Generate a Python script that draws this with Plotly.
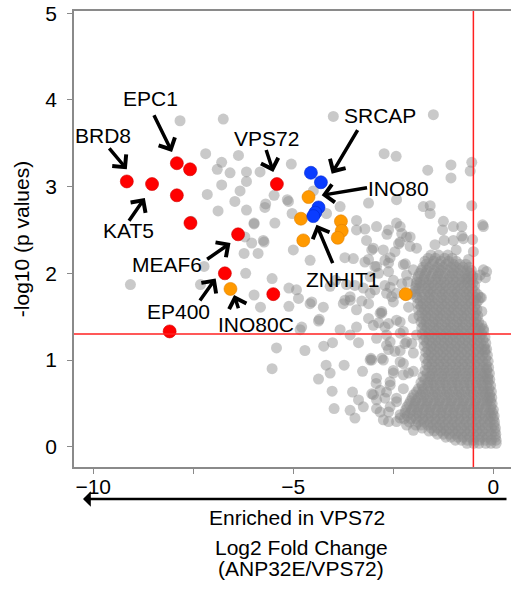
import plotly.graph_objects as go

# ---------------- data ----------------
# highlighted complexes (log2 FC, -log10 p)
red_x = [-9.16, -8.53, -7.91, -7.58, -7.91, -7.57, -5.41, -6.38, -6.71, -5.50, -8.09]
red_y = [3.06, 3.03, 3.27, 3.20, 2.90, 2.58, 3.03, 2.45, 2.00, 1.76, 1.33]

blue_x = [-4.56, -4.31, -4.37, -4.45, -4.50]
blue_y = [3.16, 3.05, 2.76, 2.70, 2.66]

orange_x = [-4.62, -4.81, -3.81, -3.79, -3.89, -4.75, -2.19, -6.57]
orange_y = [2.88, 2.63, 2.60, 2.49, 2.41, 2.38, 1.76, 1.82]

# background proteins, sparse upper part
grey_upper = [
    (-7.83, 3.76), (-6.75, 3.78), (-7.19, 3.38), (-6.79, 3.28), (-6.37, 3.36),
    (-6.90, 3.20), (-6.58, 3.16), (-6.17, 3.17), (-5.83, 3.17), (-6.79, 3.02),
    (-6.17, 3.06), (-7.15, 2.91), (-6.33, 2.95), (-6.46, 2.83), (-6.17, 2.73),
    (-6.88, 2.72), (-5.98, 2.58), (-6.21, 2.42), (-5.05, 3.26), (-5.48, 2.90),
    (-5.15, 2.85), (-5.12, 2.83), (-5.69, 2.80), (-4.00, 3.81), (-1.50, 3.83),
    (-2.73, 3.38), (-2.43, 3.35), (-1.64, 3.19), (-1.06, 3.25), (-1.06, 3.10),
    (-0.54, 3.28), (-0.58, 3.18), (-3.12, 2.81), (-2.42, 2.85), (-3.83, 2.77),
    (-1.58, 2.78), (-0.54, 2.78), (-5.71, 2.76), (-1.75, 2.77), (-1.58, 2.69),
    (-4.17, 2.69), (-5.03, 2.69), (-5.46, 2.58), (-4.50, 2.95), (-4.40, 2.75),
    (-6.04, 2.35), (-5.75, 2.38), (-7.55, 2.60),
]

# background proteins, middle band
grey_middle = [
    (-3.42, 2.61), (-3.21, 2.51), (-3.42, 2.50), (-2.92, 2.54), (-2.62, 2.50),
    (-2.42, 2.58), (-2.29, 2.46), (-2.08, 2.42), (-1.25, 2.60), (-1.00, 2.54),
    (-0.79, 2.54), (-0.25, 2.54), (-1.27, 2.50), (-1.23, 2.38), (-1.00, 2.38),
    (-0.52, 2.39), (-0.79, 2.43), (-0.27, 2.56), (-3.17, 2.38), (-2.33, 2.54),
    (-2.66, 2.45), (-2.17, 2.42), (-2.37, 2.34), (-1.92, 2.29), (-2.08, 2.31),
    (-3.04, 2.27), (-2.75, 2.27), (-2.58, 2.18), (-3.50, 2.17), (-3.71, 2.18),
    (-3.12, 2.16), (-4.58, 2.15), (-5.00, 2.27), (-4.92, 1.81), (-4.58, 1.65),
    (-4.25, 1.61), (-4.83, 1.35), (-3.75, 1.65), (-3.58, 1.73), (-3.42, 1.58),
    (-3.29, 1.68), (-3.08, 1.77), (-2.83, 1.54), (-2.87, 1.43), (-3.08, 1.96),
    (-2.92, 2.08), (-2.62, 2.02), (-2.50, 1.92), (-2.42, 1.77), (-2.54, 1.73),
    (-2.71, 1.86), (-3.71, 1.69), (-3.46, 1.86), (-0.17, 2.02), (-0.25, 2.04),
    (-2.20, 2.11), (-2.17, 1.98), (-2.00, 2.04), (-5.98, 2.57), (-5.73, 2.36),
    (-6.23, 2.23), (-5.88, 2.23), (-6.19, 2.00), (-5.53, 1.94), (-5.98, 1.75),
    (-5.82, 1.61), (-5.11, 1.83), (-5.11, 1.62), (-9.07, 1.87), (-7.32, 1.87),
    (-7.23, 2.08), (-4.87, 1.71), (-4.54, 1.67), (-4.37, 1.45), (-4.35, 1.47),
    (-4.79, 1.38), (-3.94, 1.92), (-4.08, 1.85), (-3.67, 1.87), (-3.58, 1.69),
    (-3.25, 1.83), (-3.12, 1.65), (-2.79, 1.56), (-3.12, 1.48), (-3.42, 1.38),
    (-3.83, 1.35), (-2.71, 1.38), (-2.42, 1.46), (-3.21, 2.13), (-2.87, 2.00),
    (-2.62, 2.12), (-2.29, 1.88), (-2.58, 1.84), (-3.00, 2.29), (-2.71, 2.15),
    (-2.96, 2.08), (-2.46, 2.25), (-2.33, 2.36), (-2.25, 2.10), (-2.67, 1.77),
    (-2.96, 1.81), (-2.50, 1.67), (-2.79, 1.54), (-3.00, 1.40), (-2.62, 1.42),
    (-2.33, 1.44), (-2.12, 1.61), (-2.00, 1.48), (-2.25, 1.33), (-0.75, 2.40),
    (-0.67, 1.94), (-0.50, 2.25), (-0.33, 1.98), (-0.41, 1.94), (-0.29, 1.56),
    (-0.29, 1.40), (-0.25, 1.36), (-0.30, 1.72), (-0.20, 1.95),
    (-1.46, 2.33), (-0.93, 2.27), (-0.62, 2.16), (-2.06, 1.76), (-2.14, 1.90),
]

# background proteins, lower scattered part
grey_lower = [
    (-5.42, 1.14), (-5.53, 0.90), (-4.71, 1.11), (-4.24, 1.16), (-4.02, 1.20),
    (-3.58, 1.29), (-3.37, 1.20), (-4.18, 0.94), (-4.08, 0.85), (-3.73, 0.94),
    (-4.37, 0.78), (-4.03, 0.64), (-3.98, 0.44), (-3.52, 0.63), (-3.37, 0.54),
    (-3.58, 0.42), (-3.46, 0.33), (-3.27, 0.87), (-3.08, 1.00), (-3.06, 1.02),
    (-3.25, 0.46), (-2.93, 0.73), (-2.83, 0.65), (-3.04, 0.61), (-2.92, 0.54),
    (-2.83, 0.40), (-2.62, 0.29), (-2.79, 1.02), (-2.62, 1.12), (-2.58, 1.21),
    (-2.67, 1.29), (-2.50, 0.88), (-2.58, 0.75), (-2.67, 0.63), (-2.42, 0.56),
    (-2.21, 1.19), (-2.25, 0.96), (-2.12, 0.85), (-1.92, 1.29), (-2.33, 1.31),
    (-2.04, 1.19), (-2.33, 1.11), (-2.58, 0.46), (-2.33, 0.33), (-2.00, 0.19),
    (-2.92, 1.25), (-2.67, 1.17), (-2.46, 1.10), (-2.17, 1.21), (-2.00, 1.08),
    (-3.04, 1.00), (-2.75, 1.00), (-2.33, 0.98), (-2.25, 0.83), (-2.50, 0.85),
    (-2.00, 0.87), (-2.92, 0.79), (-2.58, 0.71), (-2.25, 0.67), (-3.00, 0.60),
    (-2.71, 0.56), (-2.42, 0.52), (-2.92, 0.44), (-2.62, 0.40), (-2.33, 0.37),
    (-2.75, 0.31), (-2.42, 0.29), (-2.17, 0.25), (-0.21, 1.12), (-0.17, 0.90),
    (-0.14, 0.78),
]

# dense core of the background cloud: rows of (-log10 p, [log2 FC ...])
grey_core_rows = [
    (2.21, [-1.56, -1.37, -1.14]),
    (2.14, [-1.71, -1.49, -1.31, -1.12, -0.93]),
    (2.07, [-1.76, -1.60, -1.41, -1.26, -1.07, -0.93, -0.76, -0.61]),
    (2.00, [-1.84, -1.69, -1.51, -1.37, -1.21, -1.03, -0.89, -0.71, -0.57]),
    (1.93, [-1.91, -1.74, -1.61, -1.44, -1.31, -1.14, -1.01, -0.84, -0.69, -0.55]),
    (1.86, [-1.93, -1.79, -1.62, -1.49, -1.32, -1.19, -1.02, -0.87, -0.74, -0.58, -0.47]),
    (1.79, [-1.96, -1.81, -1.64, -1.51, -1.34, -1.21, -1.04, -0.91, -0.74, -0.61, -0.46]),
    (1.72, [-1.91, -1.78, -1.61, -1.48, -1.31, -1.18, -1.01, -0.88, -0.71, -0.58, -0.44, -0.33]),
    (1.65, [-1.89, -1.76, -1.59, -1.46, -1.29, -1.16, -0.99, -0.86, -0.69, -0.56, -0.43]),
    (1.58, [-1.87, -1.72, -1.59, -1.42, -1.29, -1.12, -0.99, -0.82, -0.69, -0.52, -0.41]),
    (1.51, [-1.86, -1.69, -1.56, -1.39, -1.26, -1.09, -0.96, -0.79, -0.66, -0.49, -0.39]),
    (1.44, [-1.81, -1.68, -1.51, -1.38, -1.21, -1.08, -0.91, -0.78, -0.61, -0.48, -0.37]),
    (1.37, [-1.79, -1.66, -1.49, -1.36, -1.19, -1.06, -0.89, -0.76, -0.59, -0.46, -0.34]),
    (1.30, [-1.78, -1.61, -1.48, -1.31, -1.18, -1.01, -0.88, -0.71, -0.58, -0.41, -0.29]),
    (1.23, [-1.74, -1.61, -1.44, -1.31, -1.14, -1.01, -0.84, -0.71, -0.54, -0.41, -0.26]),
    (1.16, [-1.73, -1.56, -1.43, -1.26, -1.13, -0.96, -0.83, -0.66, -0.53, -0.36, -0.23]),
    (1.09, [-1.69, -1.56, -1.39, -1.26, -1.09, -0.96, -0.79, -0.66, -0.49, -0.36, -0.21]),
    (1.02, [-1.71, -1.54, -1.41, -1.24, -1.11, -0.94, -0.81, -0.64, -0.51, -0.34, -0.19]),
    (0.95, [-1.67, -1.54, -1.37, -1.24, -1.07, -0.94, -0.77, -0.64, -0.47, -0.34, -0.18]),
    (0.88, [-1.71, -1.54, -1.41, -1.24, -1.11, -0.94, -0.81, -0.64, -0.51, -0.34, -0.16]),
    (0.81, [-1.76, -1.59, -1.46, -1.29, -1.16, -0.99, -0.86, -0.69, -0.56, -0.39, -0.26, -0.14]),
    (0.74, [-1.81, -1.64, -1.51, -1.34, -1.21, -1.04, -0.91, -0.74, -0.61, -0.44, -0.31, -0.13]),
    (0.67, [-1.87, -1.74, -1.57, -1.44, -1.27, -1.14, -0.97, -0.84, -0.67, -0.54, -0.37, -0.24, -0.11]),
    (0.60, [-1.99, -1.82, -1.69, -1.52, -1.39, -1.22, -1.09, -0.92, -0.79, -0.62, -0.49, -0.32, -0.19, -0.09]),
    (0.53, [-2.07, -1.94, -1.77, -1.64, -1.47, -1.34, -1.17, -1.04, -0.87, -0.74, -0.57, -0.44, -0.27, -0.14, -0.07]),
    (0.46, [-2.16, -1.99, -1.86, -1.69, -1.56, -1.39, -1.26, -1.09, -0.96, -0.79, -0.66, -0.49, -0.36, -0.19, -0.06]),
    (0.39, [-2.21, -2.08, -1.91, -1.78, -1.61, -1.48, -1.31, -1.18, -1.01, -0.88, -0.71, -0.58, -0.41, -0.28, -0.11, -0.02]),
    (0.32, [-2.23, -2.06, -1.93, -1.76, -1.63, -1.46, -1.33, -1.16, -1.03, -0.86, -0.73, -0.56, -0.43, -0.26, -0.13, 0.00]),
    (0.25, [-1.94, -1.81, -1.64, -1.51, -1.34, -1.21, -1.04, -0.91, -0.74, -0.61, -0.44, -0.31, -0.14, 0.02]),
    (0.18, [-1.61, -1.48, -1.31, -1.18, -1.01, -0.88, -0.71, -0.58, -0.41, -0.28, -0.11, 0.04]),
    (0.11, [-1.19, -1.06, -0.89, -0.76, -0.59, -0.46, -0.29, -0.16, 0.05]),
    (0.04, [-0.66, -0.49, -0.36, -0.19, -0.06, 0.07]),
]

# more core proteins lying between the rows above
grey_core_rows_between = [
    (2.175, [-1.63, -1.45, -1.22, -1.03]),
    (2.105, [-1.68, -1.52, -1.34, -1.18, -1.00, -0.84, -0.69]),
    (2.035, [-1.80, -1.66, -1.48, -1.32, -1.15, -0.99, -0.82, -0.66, -0.55]),
    (1.965, [-1.88, -1.72, -1.56, -1.40, -1.26, -1.09, -0.94, -0.79, -0.63, -0.52]),
    (1.895, [-1.92, -1.83, -1.68, -1.53, -1.38, -1.23, -1.08, -0.93, -0.79, -0.64, -0.51]),
    (1.825, [-1.95, -1.86, -1.70, -1.56, -1.41, -1.26, -1.11, -0.96, -0.81, -0.66, -0.53]),
    (1.755, [-1.93, -1.72, -1.58, -1.43, -1.27, -1.12, -0.97, -0.83, -0.67, -0.52, -0.39]),
    (1.685, [-1.83, -1.69, -1.54, -1.38, -1.23, -1.08, -0.93, -0.78, -0.63, -0.49, -0.38]),
    (1.615, [-1.81, -1.66, -1.51, -1.36, -1.21, -1.06, -0.91, -0.76, -0.61, -0.47]),
    (1.545, [-1.79, -1.64, -1.49, -1.34, -1.19, -1.04, -0.89, -0.74, -0.59, -0.45]),
    (1.475, [-1.77, -1.62, -1.47, -1.32, -1.17, -1.02, -0.87, -0.72, -0.57, -0.43]),
    (1.405, [-1.74, -1.59, -1.44, -1.29, -1.14, -0.99, -0.84, -0.69, -0.54, -0.40]),
    (1.335, [-1.71, -1.56, -1.41, -1.26, -1.11, -0.96, -0.81, -0.66, -0.51, -0.36, -0.24]),
    (1.265, [-1.69, -1.54, -1.39, -1.24, -1.09, -0.94, -0.79, -0.64, -0.49, -0.34, -0.21]),
    (1.195, [-1.67, -1.52, -1.37, -1.22, -1.07, -0.92, -0.77, -0.62, -0.47, -0.32, -0.19]),
    (1.125, [-1.64, -1.49, -1.34, -1.19, -1.04, -0.89, -0.74, -0.59, -0.44, -0.29, -0.17]),
    (1.055, [-1.62, -1.47, -1.32, -1.17, -1.02, -0.87, -0.72, -0.57, -0.42, -0.27, -0.15]),
    (0.985, [-1.63, -1.48, -1.33, -1.18, -1.03, -0.88, -0.73, -0.58, -0.43, -0.27, -0.13]),
    (0.915, [-1.61, -1.46, -1.31, -1.16, -1.01, -0.86, -0.71, -0.56, -0.41, -0.25, -0.12]),
    (0.845, [-1.66, -1.51, -1.36, -1.21, -1.06, -0.91, -0.76, -0.61, -0.46, -0.31, -0.20, -0.10]),
    (0.775, [-1.71, -1.56, -1.41, -1.26, -1.11, -0.96, -0.81, -0.66, -0.51, -0.36, -0.21, -0.09]),
    (0.705, [-1.78, -1.63, -1.48, -1.33, -1.18, -1.03, -0.88, -0.73, -0.58, -0.43, -0.28, -0.17, -0.07]),
    (0.635, [-1.92, -1.77, -1.62, -1.47, -1.32, -1.17, -1.02, -0.87, -0.72, -0.57, -0.42, -0.27, -0.14, -0.05]),
    (0.565, [-2.03, -1.88, -1.73, -1.58, -1.43, -1.28, -1.13, -0.98, -0.83, -0.68, -0.53, -0.38, -0.23, -0.10, -0.04]),
    (0.495, [-2.11, -1.96, -1.81, -1.66, -1.51, -1.36, -1.21, -1.06, -0.91, -0.76, -0.61, -0.46, -0.31, -0.17, -0.03]),
    (0.425, [-2.19, -2.04, -1.89, -1.74, -1.59, -1.44, -1.29, -1.14, -0.99, -0.84, -0.69, -0.54, -0.39, -0.24, -0.08, 0.00]),
    (0.355, [-2.15, -2.00, -1.85, -1.70, -1.55, -1.40, -1.25, -1.10, -0.95, -0.80, -0.65, -0.50, -0.35, -0.20, -0.06, 0.02]),
    (0.285, [-2.10, -1.88, -1.73, -1.58, -1.43, -1.28, -1.13, -0.98, -0.83, -0.68, -0.53, -0.38, -0.23, -0.08, 0.03]),
    (0.215, [-1.78, -1.55, -1.40, -1.25, -1.10, -0.95, -0.80, -0.65, -0.50, -0.35, -0.20, -0.05, 0.05]),
    (0.145, [-1.40, -1.25, -1.10, -0.95, -0.80, -0.65, -0.50, -0.35, -0.20, -0.05, 0.06]),
    (0.075, [-0.95, -0.80, -0.65, -0.50, -0.35, -0.20, -0.05, 0.07]),
]

# gene labels: (text, label x, label y, arrow tail x, tail y, arrow head x, head y)
gene_labels = [
    ("EPC1", -8.58, 4.02, -8.50, 3.84, -8.03, 3.40),
    ("BRD8", -9.76, 3.59, -9.63, 3.46, -9.16, 3.20),
    ("KAT5", -9.13, 2.49, -9.13, 2.59, -8.71, 2.87),
    ("VPS72", -5.68, 3.55, -5.69, 3.44, -5.50, 3.17),
    ("SRCAP", -2.83, 3.82, -3.37, 3.67, -4.04, 3.15),
    ("INO80", -2.36, 2.98, -3.12, 2.99, -4.29, 2.90),
    ("ZNHIT1", -3.76, 1.93, -4.00, 2.10, -4.42, 2.56),
    ("MEAF6", -8.15, 2.10, -7.19, 2.15, -6.57, 2.35),
    ("EP400", -7.86, 1.56, -7.36, 1.67, -6.94, 1.94),
    ("INO80C", -5.93, 1.41, -6.36, 1.58, -6.48, 1.75),
]

x_tick_vals = [-10, -7.5, -5, -2.5, 0]
x_tick_text = ["\u221210", "", "\u22125", "", "0"]
y_tick_vals = [0, 1, 2, 3, 4, 5]
fc_cutoff = -0.5
p_cutoff = 1.3

# ---------------- assemble ----------------
grey_x, grey_y = [], []
for pts in (grey_upper, grey_middle, grey_lower):
    for gx, gy in pts:
        grey_x.append(gx)
        grey_y.append(gy)
for rows in (grey_core_rows, grey_core_rows_between):
    for ry, xs in rows:
        for gx in xs:
            grey_x.append(gx)
            grey_y.append(ry)

FONT = "Liberation Sans, Arial, sans-serif"

fig = go.Figure()
fig.add_trace(go.Scatter(
    x=grey_x, y=grey_y, mode="markers",
    marker=dict(size=11, color="rgb(140,140,140)", opacity=0.47, line=dict(width=0)),
    hoverinfo="skip"))
fig.add_trace(go.Scatter(
    x=red_x, y=red_y, mode="markers",
    marker=dict(size=13, color="#ff0000", line=dict(width=0.6, color="#d00000"))))
fig.add_trace(go.Scatter(
    x=orange_x, y=orange_y, mode="markers",
    marker=dict(size=13, color="#ff9900", line=dict(width=0.6, color="#e08000"))))
fig.add_trace(go.Scatter(
    x=blue_x, y=blue_y, mode="markers",
    marker=dict(size=13, color="#0a3cff", line=dict(width=0.6, color="#0028d0"))))

annotations = []
for name, lx, ly, tx, ty, hx, hy in gene_labels:
    annotations.append(dict(
        x=hx, y=hy, ax=tx, ay=ty, xref="x", yref="y", axref="x", ayref="y",
        text="", showarrow=True, arrowhead=4, arrowsize=1.0, arrowwidth=3.5,
        arrowcolor="black", standoff=0, startstandoff=0))
    annotations.append(dict(
        x=lx, y=ly, xref="x", yref="y", text=name, showarrow=False,
        font=dict(family=FONT, size=21, color="black")))

# bottom direction arrow and axis titles (below plot)
plot_left, plot_w, plot_top, plot_h = 74, 437, 11, 456
def px_to_paper(px, py):
    return (px - plot_left) / plot_w, (plot_top + plot_h - py) / plot_h

hx, hy = px_to_paper(83, 499)
annotations.append(dict(
    x=hx, y=hy, xref="paper", yref="paper", ax=425, ay=0,
    text="", showarrow=True, arrowhead=1, arrowsize=1.0, arrowwidth=2.6,
    arrowcolor="black", standoff=0, startstandoff=0))
for txt, cx, cy in [("Enriched in VPS72", 297, 517),
                    ("Log2 Fold Change", 301, 547),
                    ("(ANP32E/VPS72)", 301, 568)]:
    px_, py_ = px_to_paper(cx, cy)
    annotations.append(dict(
        x=px_, y=py_, xref="paper", yref="paper", text=txt, showarrow=False,
        xanchor="center", yanchor="middle",
        font=dict(family=FONT, size=21, color="black")))

fig.update_layout(
    width=511, height=589,
    margin=dict(l=74, r=0, t=11, b=122),
    paper_bgcolor="white", plot_bgcolor="white",
    showlegend=False,
    font=dict(family=FONT, size=21, color="black"),
    xaxis=dict(range=[-10.48, 0.44], showgrid=False, zeroline=False,
               showline=True, linecolor="#8a8a8a", linewidth=1.5, mirror=True,
               ticks="outside", ticklen=5, tickcolor="#8a8a8a", tickwidth=1.2,
               tickvals=x_tick_vals, ticktext=x_tick_text, ticklabelstandoff=-5,
               tickfont=dict(family=FONT, size=21, color="black")),
    yaxis=dict(range=[-0.234, 5.026], showgrid=False, zeroline=False,
               showline=True, linecolor="#8a8a8a", linewidth=1.5,
               ticks="outside", ticklen=5, tickcolor="#8a8a8a", tickwidth=1.2,
               tickvals=y_tick_vals, ticklabelstandoff=6,
               tickfont=dict(family=FONT, size=21, color="black"),
               title=dict(text="-log10 (p values)", standoff=10,
                          font=dict(family=FONT, size=21, color="black"))),
    annotations=annotations,
    shapes=[
        dict(type="line", xref="x", yref="paper", x0=fc_cutoff, x1=fc_cutoff,
             y0=0, y1=1, line=dict(color="#ff2020", width=1.5), layer="above"),
        dict(type="line", xref="paper", yref="y", x0=0, x1=1,
             y0=p_cutoff, y1=p_cutoff, line=dict(color="#ff2020", width=1.5), layer="above"),
    ],
)

fig.write_html("out.html")
